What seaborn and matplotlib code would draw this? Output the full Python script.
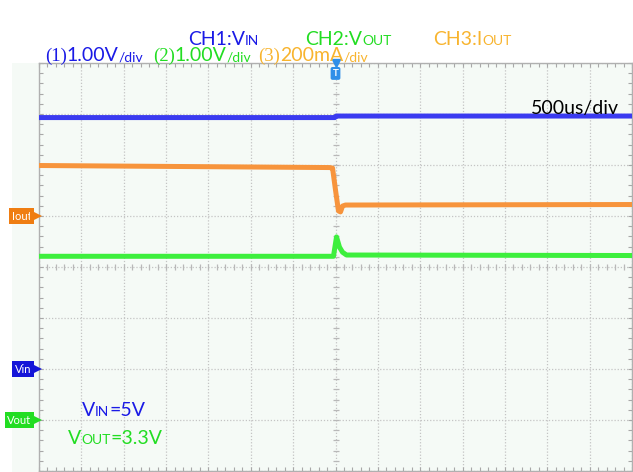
import numpy as np
import pandas as pd
import matplotlib
matplotlib.use("Agg")
import matplotlib.pyplot as plt
from matplotlib.patches import Rectangle
from matplotlib.transforms import offset_copy
import seaborn as sns

# ---------------- data ----------------
# time in microseconds, 500 us/div, trigger at t = 0
ch1_t = [-3500, -1500, -8, 8, 1500, 3500]          # VIN, volts (1.00 V/div)
ch1_v = [4.93, 4.93, 4.93, 4.96, 4.96, 4.96]

ch2_t = [-3500, -24, 12, 47, 83, 130, 3500]          # VOUT, volts (1.00 V/div)
ch2_v = [3.21, 3.21, 3.59, 3.39, 3.29, 3.235, 3.225]

ch3_t = [-3500, -71, -35, 0, 35, 59, 83, 118, 3500]  # IOUT, mA (200 mA/div)
ch3_v = [198, 190, 188, 102, 20, 16, 39, 43, 45]

# channel settings: scale per div, ground level (in divisions from centre)
ch1_scale, ch1_gnd = 1.0, -2
ch2_scale, ch2_gnd = 1.0, -3
ch3_scale, ch3_gnd = 200.0, 1

x_divs = 14
y_divs = 8
t_per_div = 500

# ---------------- figure ----------------
W, H = 633, 472
sns.set_style("white")
plt.rcParams["font.family"] = ["Lato", "DejaVu Sans"]

fig = plt.figure(figsize=(W / 100, H / 100), dpi=100)
fig.patch.set_facecolor("white")
bg = "#f5faf6"
ax = fig.add_axes([39 / W, 1 / H, 593 / W, 408 / H])
ax.set_facecolor(bg)
fig.patches.append(Rectangle((12 / W, 0), 27 / W, 409 / H, transform=fig.transFigure,
                             facecolor=bg, edgecolor="none", zorder=-5))

half_t = x_divs / 2 * t_per_div
ax.set_xlim(-half_t, half_t)
ax.set_ylim(-y_divs / 2, y_divs / 2)

# grid & ticks
ax.set_xticks(np.arange(-half_t, half_t + 1, t_per_div))
ax.set_yticks(np.arange(-y_divs / 2, y_divs / 2 + 0.1, 1))
ax.set_xticks(np.arange(-half_t, half_t + 1, t_per_div / 5), minor=True)
ax.set_yticks(np.arange(-y_divs / 2, y_divs / 2 + 0.01, 0.2), minor=True)
ax.set_xticklabels([])
ax.set_yticklabels([])
ax.tick_params(which="both", direction="in", top=True, bottom=True, left=True, right=True,
               length=3, width=0.8, color="#a8a8a8")
ax.grid(True, which="major", linestyle=(0, (1, 1.5)), color="#c4c4c4", linewidth=0.9)
for s in ax.spines.values():
    s.set_color("#b0b0b0")
    s.set_linewidth(1)

# centre cross ticks
mx = np.arange(-half_t, half_t + 1, t_per_div / 5)
my = np.arange(-y_divs / 2, y_divs / 2 + 0.01, 0.2)
ax.plot(mx, np.zeros_like(mx), ls="none", marker="|", ms=4, mew=0.9, color="#b8b8b8", zorder=1)
ax.plot(np.zeros_like(my), my, ls="none", marker="_", ms=5, mew=0.9, color="#b8b8b8", zorder=1)

# traces
df1 = pd.DataFrame({"t": ch1_t, "d": np.array(ch1_v) / ch1_scale + ch1_gnd})
df2 = pd.DataFrame({"t": ch2_t, "d": np.array(ch2_v) / ch2_scale + ch2_gnd})
df3 = pd.DataFrame({"t": ch3_t, "d": np.array(ch3_v) / ch3_scale + ch3_gnd})
sns.lineplot(data=df1, x="t", y="d", ax=ax, color="#3a3af0", lw=3.6, estimator=None, sort=False, zorder=3)
sns.lineplot(data=df3, x="t", y="d", ax=ax, color="#f7943c", lw=3.6, estimator=None, sort=False, zorder=3)
sns.lineplot(data=df2, x="t", y="d", ax=ax, color="#3def3d", lw=3.6, estimator=None, sort=False, zorder=3)
ax.set_xlabel("")
ax.set_ylabel("")

# trigger marker
ax.plot([0], [y_divs / 2], marker="v", ms=6, color="#2f8fe8", clip_on=False, zorder=5)
ax.annotate("T", xy=(0, y_divs / 2), xytext=(0, -7.5), textcoords="offset points",
            ha="center", va="center", color="white", fontsize=7, fontweight="bold",
            bbox=dict(boxstyle="round,pad=0.2", fc="#2f8fe8", ec="none"), zorder=6)

# ground markers (flag with a small arrow point)
ytr = ax.get_yaxis_transform()
tri_tr = offset_copy(ytr, fig=fig, x=-3, y=0, units="dots")
for lab, g, c in [("Iout", ch3_gnd, "#ef7d12"), ("Vin", ch1_gnd, "#1515d8"), ("Vout", ch2_gnd, "#22dd22")]:
    ax.annotate(lab, xy=(0, g), xycoords=ytr, xytext=(-5.5, 0), textcoords="offset points",
                ha="right", va="center", fontsize=8, color="white", annotation_clip=False,
                zorder=6,
                bbox=dict(boxstyle="square,pad=0.22", fc=c, ec="none"))
    ax.plot([0], [g], transform=tri_tr, marker=">", ms=8, mew=0, color=c,
            clip_on=False, zorder=6)

# ---------------- rich text helper ----------------
renderer = fig.canvas.get_renderer()


def rich(x, y, parts):
    for s, size, color, fam in parts:
        t = fig.text(x / W, 1 - y / H, s, fontsize=size, color=color, family=fam,
                     ha="left", va="baseline")
        bb = t.get_window_extent(renderer)
        x += bb.width


sans = ["Lato", "DejaVu Sans"]
serif = ["Liberation Serif", "DejaVu Serif"]
c1, c2, c3 = "#1a1ae6", "#22dd22", "#f8b42e"

rich(188, 45, [("CH1:V", 14, c1, sans), ("IN", 10, c1, sans)])
rich(305, 45, [("CH2:V", 14, c2, sans), ("OUT", 10, c2, sans)])
rich(433, 45, [("CH3:I", 14, c3, sans), ("OUT", 10, c3, sans)])

rich(45, 61, [("(1)", 13.5, c1, serif), ("1.00V", 14, c1, sans), ("/div", 10, c1, sans)])
rich(153, 61, [("(2)", 13.5, c2, serif), ("1.00V", 14, c2, sans), ("/div", 10, c2, sans)])
rich(258, 61, [("(3)", 13.5, c3, serif), ("200mA", 14, c3, sans), ("/div", 10, c3, sans)])

rich(531, 114, [("500us/div", 14, "black", sans)])

rich(82, 416, [("V", 14, c1, sans), ("IN", 10, c1, sans), ("=5V", 14, c1, sans)])
rich(68, 444, [("V", 14, c2, sans), ("OUT", 10, c2, sans), ("=3.3V", 14, c2, sans)])

fig.savefig("out.png", dpi=100, facecolor="white")
